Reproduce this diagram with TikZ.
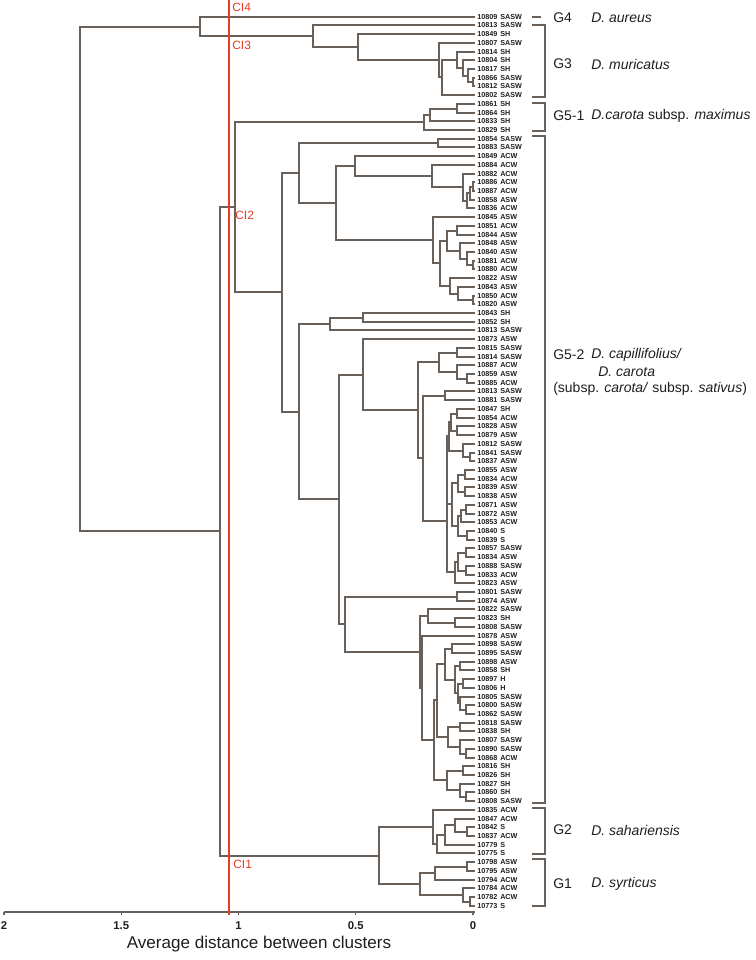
\documentclass[tikz,border=0pt]{standalone}
\usepackage{fontspec}
\setmainfont{Liberation Sans}
\usetikzlibrary{calc}
\definecolor{treec}{RGB}{105,96,90}
\definecolor{redc}{RGB}{232,60,38}
\definecolor{txtc}{RGB}{30,30,30}
\tikzset{
  tree/.style={draw=treec, line width=1.5pt},
  axisln/.style={draw=treec, line width=1.5pt},
  redln/.style={draw=redc, line width=1.5pt},
  leaflab/.style={font=\fontsize{5.4}{6}\selectfont\bfseries, text=txtc, inner sep=0pt, anchor=west},
  grp/.style={font=\fontsize{10.5}{12}\selectfont, text=txtc, inner sep=0pt, anchor=west},
  redlab/.style={font=\fontsize{9}{10}\selectfont, text=redc, inner sep=0pt, anchor=west},
  ticklab/.style={font=\fontsize{8.5}{10}\selectfont\bfseries, text=txtc, inner sep=0pt},
  brk/.style={draw=treec, line width=1.2pt},
}
\newcommand\jn[4]{%
  \path ($(#3)!0.5!(#4)$) coordinate (#1m);
  \coordinate (#1) at (#2,0 |- #1m);
  \draw[tree] (#3) -| (#1) |- (#4);
}
\begin{document}
\begin{tikzpicture}[x=0.75pt,y=-0.75pt]
\useasboundingbox (0,0) rectangle (756,960);
% leaves
\foreach \n/\t [count=\i] in {10809/SASW,10813/SASW,10849/SH,10807/SASW,10814/SH,10804/SH,10817/SH,10866/SASW,10812/SASW,10802/SASW,
10861/SH,10864/SH,10833/SH,10829/SH,10854/SASW,10883/SASW,10849/ACW,10884/ACW,10882/ACW,10886/ACW,
10887/ACW,10858/ASW,10836/ACW,10845/ASW,10851/ACW,10844/ASW,10848/ASW,10840/ASW,10881/ACW,10880/ACW,
10822/ASW,10843/ASW,10850/ACW,10820/ASW,10843/SH,10852/SH,10813/SASW,10873/ASW,10815/SASW,10814/SASW,
10887/ACW,10859/ASW,10885/ACW,10813/SASW,10881/SASW,10847/SH,10854/ACW,10828/ASW,10879/ASW,10812/SASW,
10841/SASW,10837/ASW,10855/ASW,10834/ACW,10839/ASW,10838/ASW,10871/ASW,10872/ASW,10853/ACW,10840/S,
10839/S,10857/SASW,10834/ASW,10888/SASW,10833/ACW,10823/ASW,10801/SASW,10874/ASW,10822/SASW,10823/SH,
10808/SASW,10878/ASW,10898/SASW,10895/SASW,10898/ASW,10858/SH,10897/H,10806/H,10805/SASW,10800/SASW,
10862/SASW,10818/SASW,10838/SH,10807/SASW,10890/SASW,10868/ACW,10816/SH,10826/SH,10827/SH,10860/SH,
10808/SASW,10835/ACW,10847/ACW,10842/S,10837/ACW,10779/S,10775/S,10798/ASW,10795/ASW,10794/ACW,
10784/ACW,10782/ACW,10773/S}{
  \pgfmathsetmacro\yy{round(16.7+(\i-1)*8.716)}
  \coordinate (l\i) at (475,\yy);
  \node[leaflab] (num\i) at (477,\yy) {\n};
  \node[leaflab] (typ\i) at (500,\yy) {\t};
}
% G4 + G3
\jn{g3g}{473}{l8}{l9}
\jn{g3f}{468}{l7}{g3g}
\jn{g3e}{463}{l6}{g3f}
\jn{g3d}{457}{l5}{g3e}
\jn{g3c}{442}{g3d}{l10}
\jn{g3b}{439}{l4}{g3c}
\jn{g3a}{358}{l3}{g3b}
\jn{g3h}{313}{l2}{g3a}
\jn{ntop}{200}{l1}{g3h}
% G5-1
\jn{a1}{457}{l11}{l12}
\jn{a2}{430}{a1}{l13}
\jn{a3}{424}{a2}{l14}
% G5-2 upper
\jn{b1}{438}{l15}{l16}
\jn{q3}{473}{l20}{l21}
\jn{q2}{470}{q3}{l22}
\jn{q1}{467}{q2}{l23}
\jn{np}{463}{l19}{q1}
\jn{no}{432}{l18}{np}
\jn{nn}{355}{l17}{no}
\jn{c1}{457}{l25}{l26}
\jn{c2}{473}{l29}{l30}
\jn{c3}{467}{l28}{c2}
\jn{c4}{460}{l27}{c3}
\jn{c5}{447}{c1}{c4}
\jn{c6}{473}{l33}{l34}
\jn{c7}{458}{l32}{c6}
\jn{c8}{450}{l31}{c7}
\jn{c9}{440}{c5}{c8}
\jn{c10}{433}{l24}{c9}
\jn{nm}{336}{nn}{c10}
\jn{nl}{299}{b1}{nm}
% G5-2 lower
\jn{u1}{363}{l35}{l36}
\jn{nu}{330}{u1}{l37}
\jn{w1}{457}{l39}{l40}
\jn{w2}{467}{l42}{l43}
\jn{w3}{457}{l41}{w2}
\jn{ny}{439}{w1}{w3}
\jn{z1}{445}{l44}{l45}
\jn{ab1}{457}{l46}{l47}
\jn{ab2}{457}{l48}{l49}
\jn{ab3}{451}{ab1}{ab2}
\jn{ab4}{470}{l51}{l52}
\jn{ab5}{463}{l50}{ab4}
\jn{ab6}{449}{ab3}{ab5}
\jn{ab7}{465}{l53}{l54}
\jn{ab8}{465}{l55}{l56}
\jn{ab9}{458}{ab7}{ab8}
\jn{ab10}{466}{l57}{l58}
\jn{ab11}{461}{ab10}{l59}
\jn{ab12}{467}{l60}{l61}
\jn{ab13}{458}{ab11}{ab12}
\jn{ab14}{452}{ab9}{ab13}
\jn{ab15}{447}{ab6}{ab14}
\jn{ab16}{466}{l62}{l63}
\jn{ab17}{466}{l64}{l65}
\jn{ab18}{458}{ab16}{ab17}
\jn{ab19}{455}{ab18}{l66}
\jn{nab}{447}{ab15}{ab19}
\jn{naa}{423}{z1}{nab}
\jn{nx}{418}{ny}{naa}
\jn{nw}{363}{l38}{nx}
\jn{v2a}{457}{l67}{l68}
\jn{v3}{455}{l70}{l71}
\jn{v4}{428}{l69}{v3}
\jn{e1}{452}{l73}{l74}
\jn{e2}{460}{l75}{l76}
\jn{e3}{463}{l77}{l78}
\jn{e4}{466}{l80}{l81}
\jn{e5}{460}{l79}{e4}
\jn{e6}{458}{e3}{e5}
\jn{e7}{455}{e2}{e6}
\jn{nd6}{445}{e1}{e7}
\jn{f1}{460}{l82}{l83}
\jn{f2}{466}{l85}{l86}
\jn{f3}{460}{l84}{f2}
\jn{nd7}{448}{f1}{f3}
\jn{nd4}{437}{nd6}{nd7}
\jn{g1}{463}{l87}{l88}
\jn{g2}{466}{l90}{l91}
\jn{g3}{460}{l89}{g2}
\jn{nd5}{447}{g1}{g3}
\jn{nd3}{434}{nd4}{nd5}
\jn{nd2}{422}{l72}{nd3}
\jn{nd60}{420}{v4}{nd2}
\jn{nv2}{345}{v2a}{nd60}
\jn{nv}{339}{nw}{nv2}
\jn{nt}{299}{nu}{nv}
\jn{nk}{282}{nl}{nt}
\jn{nj}{235}{a3}{nk}
% G2 / G1
\jn{h1}{467}{l94}{l95}
\jn{h2}{455}{l93}{h1}
\jn{h3}{445}{h2}{l96}
\jn{h4}{437}{h3}{l97}
\jn{g2n}{433}{l92}{h4}
\jn{i1}{467}{l98}{l99}
\jn{i2}{435}{i1}{l100}
\jn{i3}{470}{l102}{l103}
\jn{i4}{463}{l101}{i3}
\jn{g1n}{420}{i2}{i4}
\jn{g12}{379}{g2n}{g1n}
\jn{nkk}{220}{nj}{g12}
\jn{root}{80}{ntop}{nkk}
% axis
\coordinate (ax2) at (4,912);
\coordinate (ax0) at (475,912);
\draw[axisln] (ax2) -- (ax0);
\foreach \v/\lab in {2/2,1.5/1.5,1/1,0.5/0.5,0/0}{
  \draw[axisln, line width=0.8pt] ({473-\v*234.5},912) -- ({473-\v*234.5},915);
  \node[ticklab] (tick\lab) at ({473-\v*234.5},926) {\lab};
}
\node[font=\fontsize{12.8}{14}\selectfont, text=txtc, inner sep=0pt] (axtitle) at (259,944) {Average distance between clusters};
% red cut line
\coordinate (rtop) at (229,0);
\coordinate (rbot) at (229,915);
\draw[redln] (rtop) -- (rbot);
\node[redlab] (ci4) at (232,7) {CI4};
\node[redlab] (ci3) at (232,45) {CI3};
\node[redlab] (ci2) at (235,215) {CI2};
\node[redlab] (ci1) at (233,864) {CI1};
% group brackets
\coordinate (bG4a) at (532,17); \coordinate (bG4b) at (541,17);
\draw[brk] (bG4a) -- (bG4b);
\foreach \nm/\ya/\yb in {G3/25/97, G51/103/131, G52/136/803, G2/808/854, G1/859/906}{
  \coordinate (b\nm a) at (532,\ya);
  \coordinate (b\nm b) at (532,\yb);
  \draw[brk] (b\nm a) -- ++(13,0) |- (b\nm b);
}
\node[grp] (tG4) at (553,18) {G4};
\node[grp] (sG4) at (591,18) {\textit{D. aureus}};
\node[grp] (tG3) at (553,64) {G3};
\node[grp] (sG3) at (591,64) {\textit{D. muricatus}};
\node[grp] (tG51) at (553,116) {G5-1};
\node[grp] (sG51) at (591,116) {\textit{D.carota} subsp. \textit{maximus}};
\node[grp] (tG52) at (553,355) {G5-2};
\node[grp] (sG52) at (591,355) {\textit{D. capillifolius/}};
\node[grp] (sG52b) at (598,372) {\textit{D.\ carota}};
\node[grp] (sG52c) at (553,389) {(subsp. \textit{carota/} subsp. \textit{sativus})};
\node[grp] (tG2) at (553,830) {G2};
\node[grp] (sG2) at (591,830) {\textit{D. sahariensis}};
\node[grp] (tG1) at (553,884) {G1};
\node[grp] (sG1) at (591,884) {\textit{D. syrticus}};
\end{tikzpicture}
\end{document}
